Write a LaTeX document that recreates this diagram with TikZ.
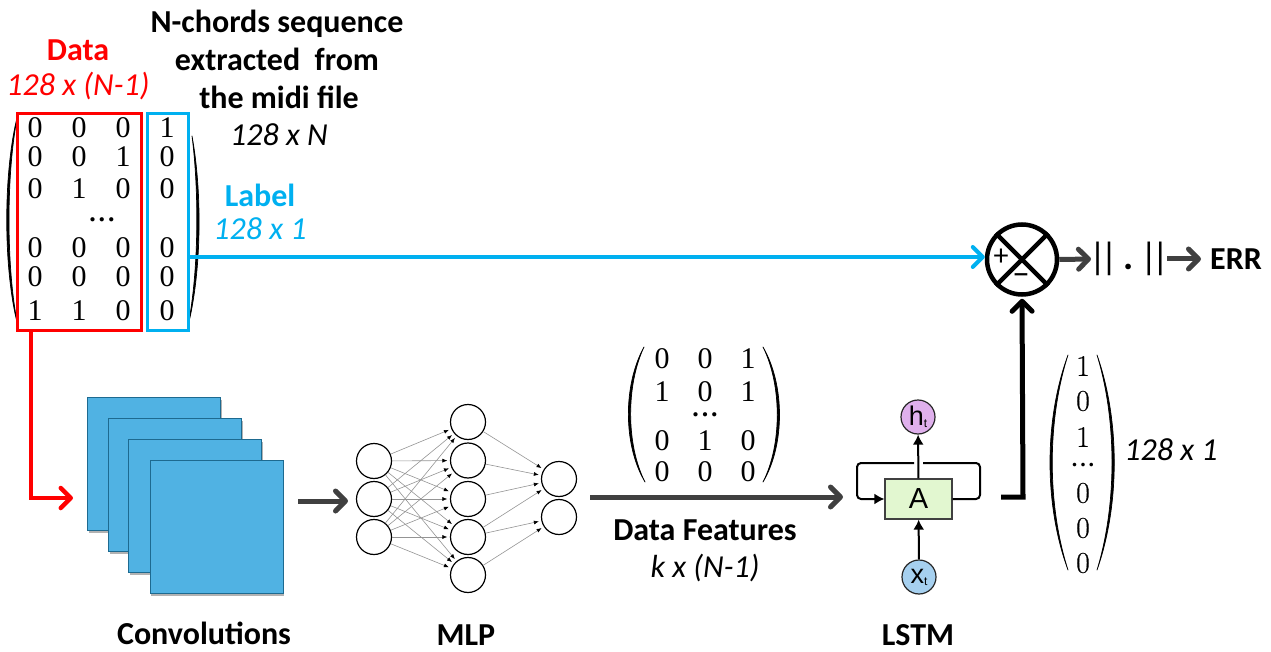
\documentclass[tikz,border=0pt]{standalone}
\usepackage{fontspec}
\setmainfont{Carlito}
\newfontfamily\digitfont{Liberation Serif}
\newfontfamily\tallfont[FakeBold=0.35]{Latin Modern Roman}
\newfontfamily\lstmfont{Liberation Sans}
\usetikzlibrary{arrows.meta,shadows}
\definecolor{redc}{HTML}{FF0000}
\definecolor{bluec}{HTML}{00B0F0}
\definecolor{greyc}{HTML}{404040}
\definecolor{sqc}{HTML}{50B2E3}
\definecolor{sqedge}{HTML}{1D6A90}
\definecolor{boxc}{HTML}{E2F7D0}
\definecolor{hc}{HTML}{DFB0EC}
\definecolor{xc}{HTML}{A6D0EF}
\newcommand{\threedots}{.\hspace{3pt}.\hspace{3pt}.}
\tikzset{
  x=1pt,y=-1pt,
  title/.style={font=\fontsize{32}{32}\selectfont\bfseries,inner sep=0pt},
  dims/.style={font=\fontsize{32}{32}\selectfont\itshape,inner sep=0pt},
  dig/.style={font=\digitfont\fontsize{30}{30}\selectfont,inner sep=0pt},
  talldig/.style={font=\tallfont\fontsize{30}{30}\selectfont,inner sep=0pt},
  dotsn/.style={font=\digitfont\bfseries\fontsize{26}{26}\selectfont,inner sep=0pt},
  paren/.style={fill=black,draw=black,line width=.7pt,line join=round},
  barb/.style={-{Straight Barb[length=10pt,width=20pt,round]}},
  sq/.style={draw=sqedge,line width=1.2pt,fill=sqc,minimum width=133pt,minimum height=133pt,inner sep=0pt,anchor=north west,drop shadow={shadow xshift=1pt,shadow yshift=-2pt,opacity=.3,fill=black}},
  nn/.style={circle,draw=black,line width=1.2pt,minimum size=35pt,inner sep=0pt},
  nnarrow/.style={draw=black!42,line width=.6pt,-{Latex[length=5pt,width=4pt,black]},shorten >=2.5pt},
  greyarrow/.style={draw=greyc,line width=5pt,barb},
  lstmarrow/.style={draw=black,line width=2pt,-{Latex[length=10pt,width=11pt]},rounded corners=4pt},
  lstmcirc/.style={circle,draw=black!85,line width=1.2pt,minimum size=34pt,inner sep=0pt,font=\lstmfont\fontsize{27}{27}\selectfont},
}
\begin{document}
\begin{tikzpicture}
\useasboundingbox (0,0) rectangle (1271,652);
% titles
\node[title] (t1) at (277,24) {N-chords sequence};
\node[title] (t2) at (277,59) {extracted\ \ from};
\node[title] (t3) at (279,97) {the midi file};
\node[dims] (t4) at (279,135) {128 x N};
\node[title,text=redc] (dt) at (78,50) {Data};
\node[dims,text=redc] (dd) at (78,86) {128 x (N-1)};
\node[title,text=bluec] (lt) at (260,195) {Label};
\node[dims,text=bluec] (ld) at (260,229) {128 x 1};
% big matrix
\draw[paren] (18,114) .. controls (3,170) and (3,270) .. (18,326) .. controls (6,270) and (6,170) .. cycle;
\draw[paren] (192,136) .. controls (202,190) and (202,270) .. (188,326) .. controls (199,270) and (199,190) .. cycle;
\foreach \nm/\x/\y/\v in {
 a1/35/128/0,a2/79/128/0,a3/123/128/0,a4/167/128/1,
 b1/35/157/0,b2/79/157/0,b3/123/157/1,b4/167/157/0,
 c1/35/189/0,c2/79/189/1,c3/123/189/0,c4/167/189/0,
 d1/35/248/0,d2/79/248/0,d3/123/248/0,d4/167/248/0,
 e1/35/277/0,e2/79/277/0,e3/123/277/0,e4/167/277/0,
 f1/35/311/1,f2/79/311/1,f3/123/311/0,f4/167/311/0}
  \node[dig] (m\nm) at (\x,\y) {\v};
\node[dotsn] (mdots) at (102,220) {\threedots};
\node[draw=redc,line width=3.5pt,minimum width=124pt,minimum height=217pt,inner sep=0pt] (redbox) at (79.5,222) {};
\node[draw=bluec,line width=3.5pt,minimum width=41pt,minimum height=217pt,inner sep=0pt] (bluebox) at (168,222) {};
% sum
\node[circle,draw=black,line width=4.5pt,minimum size=70pt,inner sep=0pt] (sum) at (1022,259.5) {};
\draw[black,line width=4.5pt] (sum.north west) -- (sum.south east);
\draw[black,line width=4.5pt] (sum.north east) -- (sum.south west);
\node[font=\fontsize{30}{30}\selectfont,inner sep=0pt] (plus) at (1001,257) {+};
\node[font=\fontsize{34}{34}\selectfont,inner sep=0pt] (minus) at (1021,280) {\textminus};
\coordinate (bluestart) at (bluebox.east |- 0,257);
\draw[bluec,line width=4pt,barb] (bluestart) -- (sum.west |- 0,257);
% norm
\node[font=\fontsize{38}{38}\selectfont,inner sep=0pt] (norm) at (1129,259) {|\hspace{-6pt}|\hspace{6pt}\textbf{.}\hspace{6pt}|\hspace{-6pt}|};
\coordinate (normin) at (1091,259);
\coordinate (normout) at (1167,259);
\coordinate (errin) at (1201,259);
\draw[greyarrow] (sum.east) -- (normin);
\node[title] (err) at (1236,259) {ERR};
\draw[greyarrow] (normout) -- (errin);
% squares
\node[sq] (s1) at (87,397) {};
\node[sq] (s2) at (108,418) {};
\node[sq] (s3) at (128,439) {};
\node[sq] (s4) at (149.5,460) {};
\node[title] (conv) at (204,633) {Convolutions};
\coordinate (redstart) at (31,331);
\coordinate (redturn) at (31,498);
\coordinate (redend) at (73,498);
\draw[redc,line width=4.5pt,barb] (redstart) -- (redturn) -- (redend);
% MLP
\foreach \n/\y in {1/461,2/499,3/537} \node[nn] (i\n) at (374,\y) {};
\foreach \n/\y in {1/422,2/460.5,3/499,4/537,5/575} \node[nn] (h\n) at (468,\y) {};
\foreach \n/\y in {1/479,2/517} \node[nn] (o\n) at (559,\y) {};
\foreach \i in {1,2,3} \foreach \h in {1,2,3,4,5} \draw[nnarrow] (i\i) -- (h\h);
\foreach \h/\o in {1/1,2/1,3/1,4/1,4/2,5/2} \draw[nnarrow] (h\h) -- (o\o);
\node[title] (mlp) at (466,635) {MLP};
\coordinate (convout) at (298,501);
\coordinate (mlpin) at (348,501);
\draw[greyarrow] (convout) -- (mlpin);
% small matrix
\draw[paren] (644,347) .. controls (623,385) and (623,445) .. (645,482) .. controls (626,445) and (626,385) .. cycle;
\draw[paren] (763,347) .. controls (785,385) and (785,445) .. (763,482) .. controls (782,445) and (782,385) .. cycle;
\foreach \nm/\x/\y/\v in {
 a1/662/359/0,a2/705/359/0,a3/748/359/1,
 b1/662/392/1,b2/705/392/0,b3/748/392/1,
 c1/662/441/0,c2/705/441/1,c3/748/441/0,
 d1/662/472/0,d2/705/472/0,d3/748/472/0}
  \node[dig] (k\nm) at (\x,\y) {\v};
\node[dotsn] (kdots) at (705,415) {\threedots};
\node[title] (df) at (705,530) {Data Features};
\node[dims] (dfd) at (705,568) {k x (N-1)};
% LSTM
\node[draw=black!75,line width=1.2pt,fill=boxc,minimum width=67pt,minimum height=40pt,inner sep=0pt,font=\lstmfont\fontsize{29}{29}\selectfont] (A) at (918.5,499) {A};
\node[lstmcirc,fill=hc] (h) at (918,417) {h\raisebox{-2pt}{\fontsize{12}{12}\selectfont t}};
\node[lstmcirc,fill=xc] (xt) at (919,577) {x\raisebox{-2pt}{\fontsize{12}{12}\selectfont t}};
\draw[lstmarrow] (A) -- (h);
\draw[lstmarrow] (xt) -- (A);
\coordinate (gr) at (914,463);
\coordinate (gl) at (923,463);
\draw[black,line width=2pt,rounded corners=4pt] (A.east) -- (980,499) -- (980,463) -- (gl);
\draw[lstmarrow] (gr) -- (857,463) -- (857,499) -- (A.west);
\node[title] (lstm) at (918,635) {LSTM};
\coordinate (fstart) at (590,497);
\coordinate (fend) at (843,497);
\draw[greyarrow] (fstart) -- (fend);
\coordinate (outs) at (1001,497);
\draw[black,line width=5pt,barb,shorten >=2pt] (outs) -- (1023,497) -- (sum.south);
% tall vector
\draw[paren] (1068,355) .. controls (1044,420) and (1044,505) .. (1068,570) .. controls (1047,505) and (1047,420) .. cycle;
\draw[paren] (1097,355) .. controls (1120,420) and (1120,505) .. (1097,570) .. controls (1117,505) and (1117,420) .. cycle;
\foreach \nm/\y/\v in {a/366/1,b/401/0,c/437/1,d/493/0,e/528/0,f/563/0}
  \node[talldig] (v\nm) at (1083,\y) {\v};
\node[dotsn,font=\digitfont\bfseries\fontsize{22}{22}\selectfont] (vdots) at (1083,465) {\threedots};
\node[dims] (vd) at (1171,450) {128 x 1};
\end{tikzpicture}
\end{document}
